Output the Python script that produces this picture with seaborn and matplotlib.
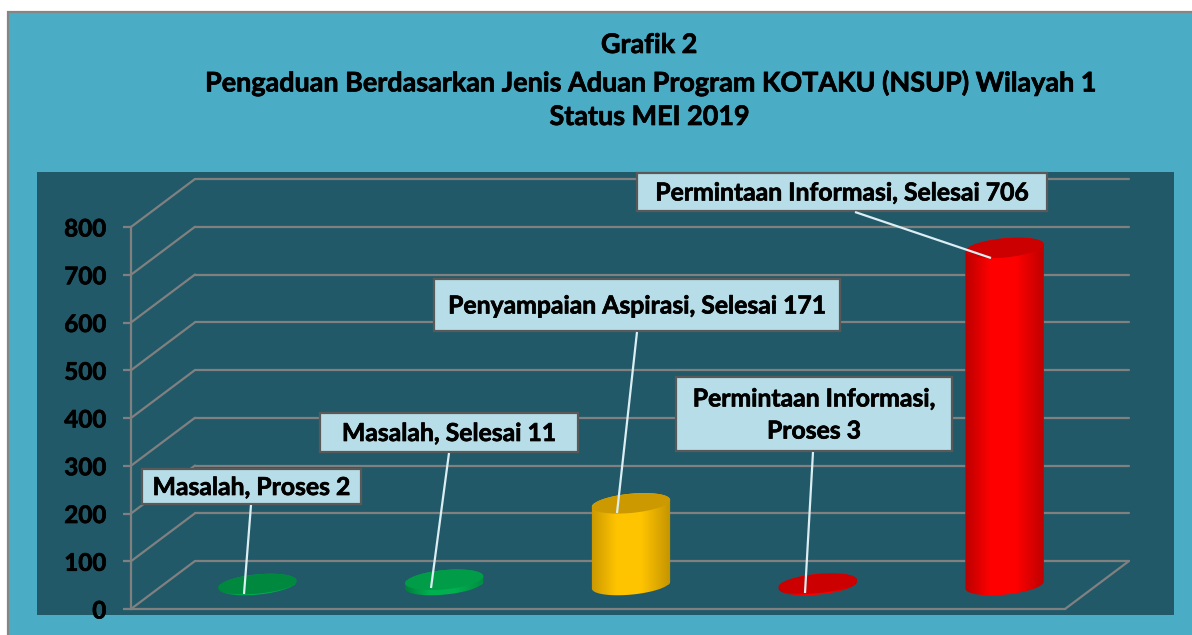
import numpy as np
import pandas as pd
import matplotlib
matplotlib.use("Agg")
import matplotlib.pyplot as plt
import matplotlib.patheffects as pe
import seaborn as sns
from matplotlib.colors import LinearSegmentedColormap
from matplotlib.lines import Line2D
from matplotlib.patches import Ellipse, Rectangle
from matplotlib.path import Path
from matplotlib.transforms import IdentityTransform, blended_transform_factory

# ---- data ----
categories = ["Masalah, Proses", "Masalah, Selesai", "Penyampaian Aspirasi, Selesai",
              "Permintaan Informasi, Proses", "Permintaan Informasi, Selesai"]
values = [2, 11, 171, 3, 706]
label_texts = ["Masalah, Proses 2", "Masalah, Selesai 11", "Penyampaian Aspirasi, Selesai 171",
               "Permintaan Informasi,\nProses 3", "Permintaan Informasi, Selesai 706"]
y_ticks = [0, 100, 200, 300, 400, 500, 600, 700, 800]
title_lines = ["Grafik 2",
               "Pengaduan Berdasarkan Jenis Aduan Program KOTAKU (NSUP) Wilayah 1",
               "Status MEI 2019"]

# ---- styles and layout (image pixels) ----
W, H = 1192, 635
TEAL, DARK, GRID = "#4BACC6", "#215968", "#808080"
BOX_FACE, BOX_EDGE, LEADER = "#B7DEE8", "#595959", "#DAEEF3"
GRID_LW = 1.6
side_cols = [("#007A3A", "#00B050", "#00B050", "#008A40"), ("#007A3A", "#00B050", "#00B050", "#008A40"),
             ("#C89600", "#FFC400", "#FFC400", "#BF9000"),
             ("#B80000", "#FF0000", "#FF0000", "#B80000"), ("#B80000", "#FF0000", "#FF0000", "#B80000")]
side_stops = [0.0, 0.32, 0.62, 1.0]
cap_cols = ["#00883F", "#009C47", "#CC9A00", "#CC0000", "#CC0000"]
box_rects = [(142, 469, 361, 504), (320, 413, 578, 452), (434, 279, 840, 331),
             (676, 377, 952, 451), (637, 173, 1047, 211)]
leaders = [((251, 505), (244, 594)), ((449, 453), (431, 588)), ((637, 332), (617, 513)),
           ((813, 452), (805, 593)), ((855, 212), (991, 258))]
FRONT = (131, 1065, 609, 227)     # left, right, y(0), y(800)
DEPTH = (64, 48)
BAR_SHIFT = (33, 24)
BAR_FLOOR = -40                   # room below the bar base for the round bottom
ELL_A, ELL_B, ELL_ANG = 39.3, 9.6, np.deg2rad(5.5)
TITLE_Y = [45, 83, 117]
FONT = "Lato"
HEAVY = [pe.withStroke(linewidth=0.5, foreground="black")]

sns.set_theme(style="white")
plt.rcParams["font.family"] = [FONT, "DejaVu Sans"]
fig = plt.figure(figsize=(W / 100, H / 100), dpi=100, facecolor="white")


def rect_px(l, r, y_bottom, y_top):
    return [l / W, 1 - y_bottom / H, (r - l) / W, (y_bottom - y_top) / H]


# background in image pixels
bg = fig.add_axes([0, 0, 1, 1], zorder=-2)
bg.set_xlim(0, W); bg.set_ylim(H, 0); bg.axis("off")
bg.add_patch(Rectangle((8, 12), W, H, fc=TEAL, ec="#858585", lw=1.6))
bg.add_patch(Rectangle((37, 172), 1137, 443, fc=DARK, ec="none"))

# front axis frame, walls and floor
l, r, y0, y8 = FRONT
frame = fig.add_axes(rect_px(l, r, y0, y8), zorder=0)
frame.patch.set_alpha(0)
frame.set_ylim(0, 800)
frame.set_xlim(0, 1)
frame.set_xticks([])
frame.set_yticks(y_ticks)
frame.set_yticklabels([str(t) for t in y_ticks], fontsize=17.4, fontweight="bold", color="black",
                      path_effects=HEAVY)
frame.tick_params(axis="y", length=5.8, width=GRID_LW, color=GRID, pad=12, left=True)
sns.despine(ax=frame, top=True, right=True, left=False, bottom=False)
for s in ("left", "bottom"):
    frame.spines[s].set_color(GRID)
    frame.spines[s].set_linewidth(GRID_LW)
tr = blended_transform_factory(frame.transAxes, frame.transData)
fig.canvas.draw()
for t in y_ticks:
    (xa, ya), (xb, _) = tr.transform([(0, t), (1, t)])
    frame.add_line(Line2D([xa, xa + DEPTH[0]], [ya, ya + DEPTH[1]], transform=IdentityTransform(),
                          color=GRID, lw=GRID_LW, clip_on=False))
    frame.add_line(Line2D([xa + DEPTH[0], xb + DEPTH[0]], [ya + DEPTH[1]] * 2,
                          transform=IdentityTransform(), color=GRID, lw=GRID_LW, clip_on=False))
xb, yb = tr.transform((1, 0))
frame.add_line(Line2D([xb, xb + DEPTH[0]], [yb, yb + DEPTH[1]], transform=IdentityTransform(),
                      color=GRID, lw=GRID_LW, clip_on=False))

# bars: same scale as the frame, moved to mid-depth
scale = (y0 - y8) / 800
ax = fig.add_axes(rect_px(l + BAR_SHIFT[0], r + BAR_SHIFT[0],
                          y0 - BAR_SHIFT[1] - BAR_FLOOR * scale, y8 - BAR_SHIFT[1]), zorder=1)
ax.patch.set_alpha(0)
df = pd.DataFrame({"category": categories, "value": values})
sns.barplot(data=df, x="category", y="value", ax=ax, order=categories, width=0.42,
            color=TEAL, saturation=1, legend=False)
ax.set_xlim(-0.5, 4.5)
ax.set_ylim(BAR_FLOOR, 800)
ax.axis("off")
fig.canvas.draw()


def ell_pts(cx, cy, t):
    x = ELL_A * np.cos(t) * np.cos(ELL_ANG) - ELL_B * np.sin(t) * np.sin(ELL_ANG)
    y = ELL_A * np.cos(t) * np.sin(ELL_ANG) + ELL_B * np.sin(t) * np.cos(ELL_ANG)
    return np.column_stack([cx + x, cy + y])


t_r = np.arctan2(-ELL_B * np.sin(ELL_ANG), ELL_A * np.cos(ELL_ANG))
for i, (bar, val) in enumerate(zip(ax.patches, values)):
    cx_data = bar.get_x() + bar.get_width() / 2
    cx, base = ax.transData.transform((cx_data, 0))
    _, top = ax.transData.transform((cx_data, val))
    lower = ell_pts(cx, base, np.linspace(t_r + np.pi, t_r + 2 * np.pi, 60))
    upper = ell_pts(cx, top, np.linspace(t_r, t_r + np.pi, 60))
    body = Path(np.vstack([lower, upper, lower[:1]]), closed=True)
    bar.set_clip_path(body, IdentityTransform())
    bar.set_facecolor(side_cols[i][1])
    bar.set_edgecolor("none")
    cmap = LinearSegmentedColormap.from_list("side", list(zip(side_stops, side_cols[i])))
    img = ax.imshow(np.linspace(0, 1, 256)[None, :], cmap=cmap, aspect="auto", zorder=3,
                    extent=(bar.get_x() - 0.01, bar.get_x() + bar.get_width() + 0.01, BAR_FLOOR, val + 30))
    img.set_clip_path(body, IdentityTransform())
    ax.add_patch(Ellipse((cx, top), 2 * ELL_A, 2 * ELL_B, angle=np.rad2deg(ELL_ANG), fc=cap_cols[i],
                         ec="none", transform=IdentityTransform(), zorder=4, clip_on=False))
ax.set_xlim(-0.5, 4.5)
ax.set_ylim(BAR_FLOOR, 800)

# overlay: data labels and leaders, title
ov = fig.add_axes([0, 0, 1, 1], zorder=5)
ov.set_xlim(0, W); ov.set_ylim(H, 0); ov.axis("off"); ov.patch.set_alpha(0)
for txt, (x0, y_0, x1, y_1), (p, q) in zip(label_texts, box_rects, leaders):
    ov.add_line(Line2D([p[0], q[0]], [p[1], q[1]], color=LEADER, lw=1.6, solid_capstyle="butt"))
    ov.add_patch(Rectangle((x0, y_0), x1 - x0, y_1 - y_0, fc=BOX_FACE, ec=BOX_EDGE, lw=1.6))
    ov.text((x0 + x1) / 2, (y_0 + y_1) / 2 + 1, txt, ha="center", va="center", fontsize=17.8,
            fontweight="bold", color="black", linespacing=1.48, path_effects=HEAVY)
for line, y in zip(title_lines, TITLE_Y):
    ov.text(649, y, line, ha="center", va="center", fontsize=19.4, fontweight="bold", color="black",
            path_effects=HEAVY)

fig.savefig("out.png", dpi=100, facecolor="white")
